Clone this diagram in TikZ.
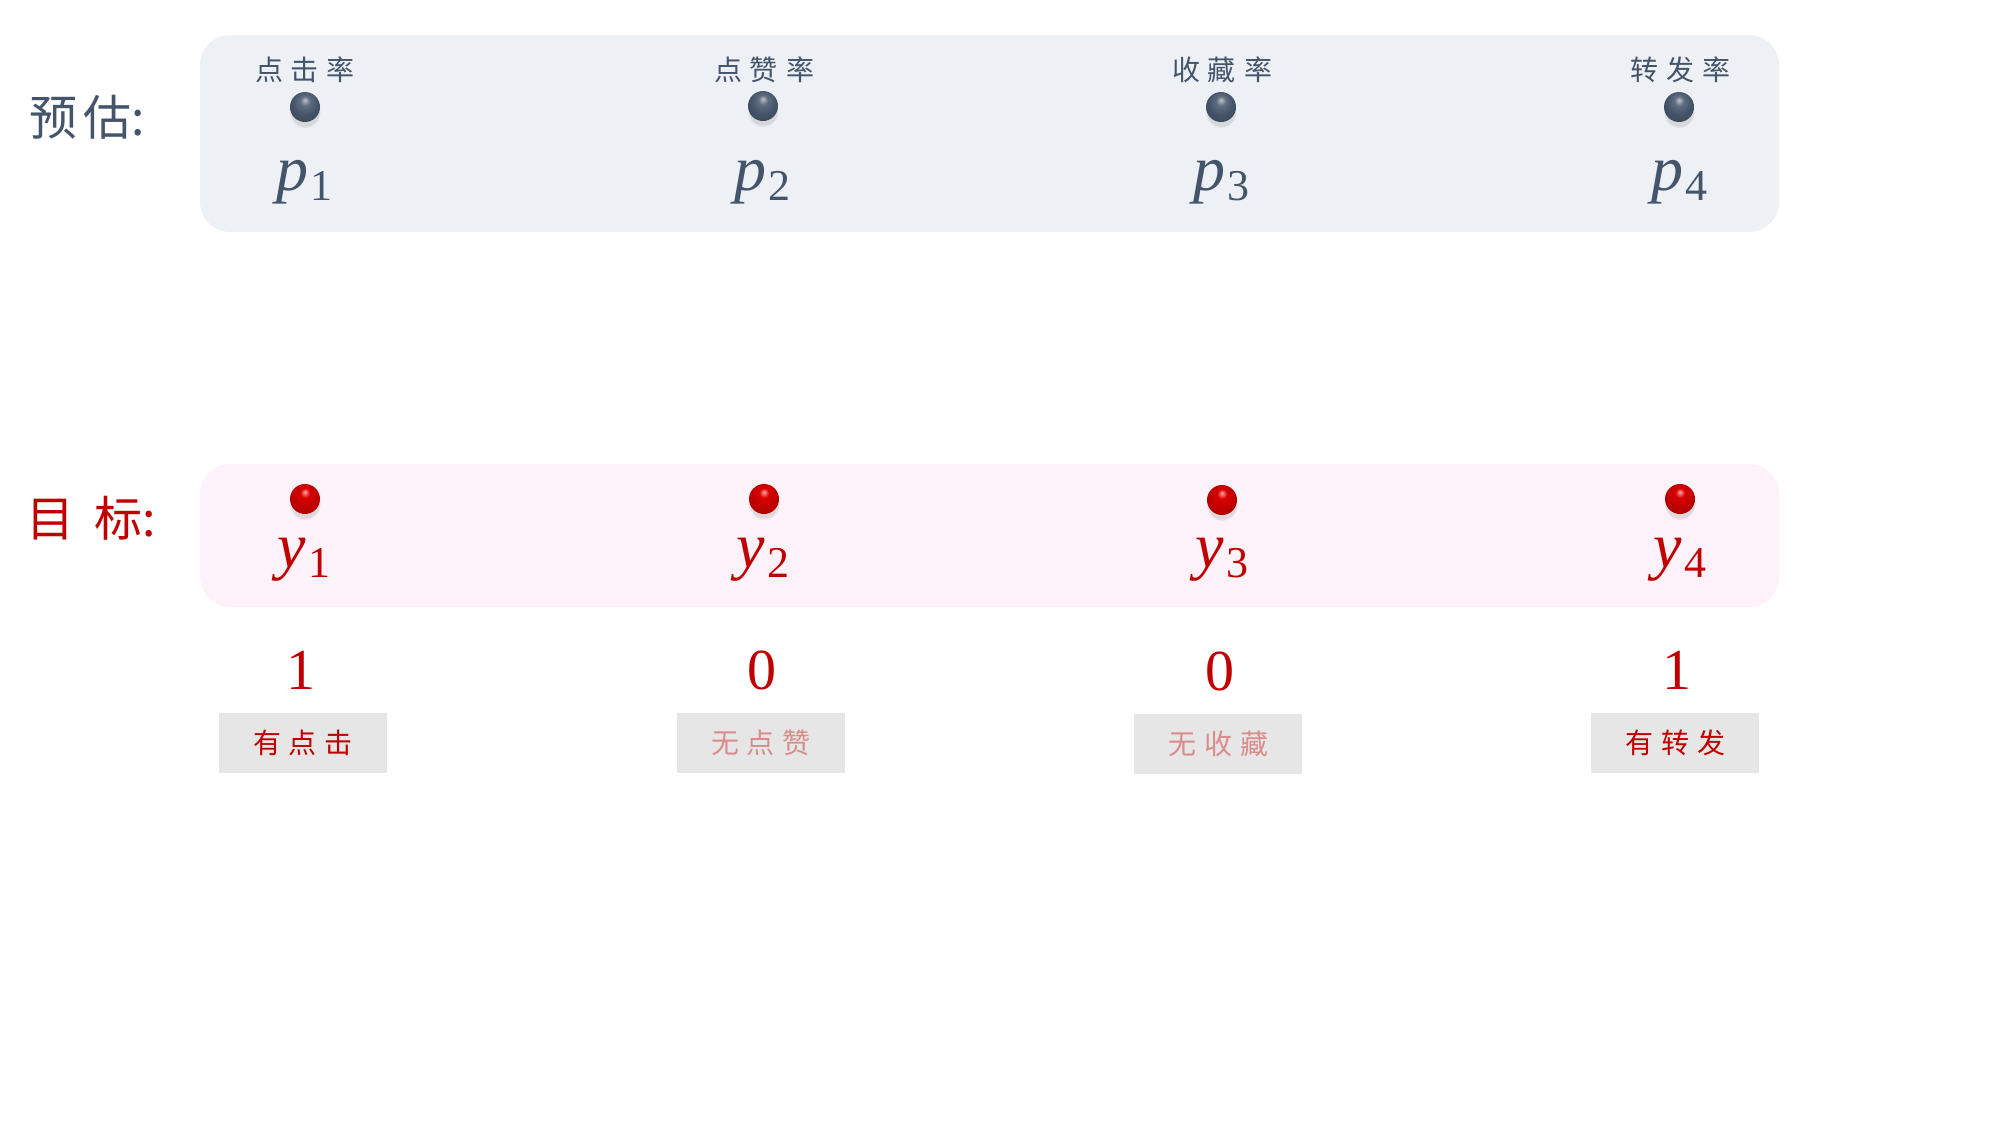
\documentclass[tikz,border=0pt]{standalone}
\usepackage{fontspec}
\setmainfont{Liberation Serif}
\newfontfamily\cjk{Noto Sans CJK SC}
\usetikzlibrary{shadows}
\definecolor{slate}{HTML}{44546A}
\definecolor{deepred}{HTML}{C00000}
\definecolor{paleRed}{HTML}{D98C8C}
\definecolor{topfill}{HTML}{EDF0F4}
\definecolor{botfill}{HTML}{FDF2F9}
\definecolor{tagfill}{HTML}{E6E6E6}
\pgfdeclareradialshading{darkballsh}{\pgfpoint{0bp}{12bp}}{color(0bp)=(slate!35!white); color(8bp)=(slate!85!white); color(20bp)=(slate); color(32bp)=(slate!85!black); color(50bp)=(slate!65!black)}
\pgfdeclareradialshading{redballsh}{\pgfpoint{0bp}{12bp}}{color(0bp)=(red!35!white); color(8bp)=(red!85!black); color(20bp)=(deepred); color(32bp)=(deepred!90!black); color(50bp)=(deepred!70!black)}
\newcommand{\gsp}{\hskip4pt}
\newcommand{\mvar}[2]{\textit{#1}\kern1pt\raisebox{-5pt}{\fontsize{22}{24}\selectfont #2}}
\tikzset{
  panel/.style={fill=#1, draw=none, rounded corners=15pt},
  rowlabel/.style={font=\cjk\fontsize{24}{28}\selectfont, inner sep=0pt},
  ratelabel/.style={font=\cjk\fontsize{14}{16}\selectfont, text=slate, inner sep=0pt},
  dropsh/.style={circular drop shadow={shadow xshift=0pt, shadow yshift=-2.5pt, opacity=0.22, shadow scale=1.05}},
  darkball/.style={circle, minimum size=15pt, inner sep=0pt, shading=darkballsh, dropsh},
  redball/.style={circle, minimum size=15pt, inner sep=0pt, shading=redballsh, dropsh},
  mathlabel/.style={font=\fontsize{32}{36}\selectfont, anchor=base, inner sep=0pt},
  numlabel/.style={font=\fontsize{29}{32}\selectfont, text=deepred, anchor=base, inner sep=0pt},
  tag/.style={fill=tagfill, minimum width=84pt, minimum height=30pt, inner sep=0pt,
    font=\cjk\fontsize{14}{16}\selectfont},
}
\begin{document}
\begin{tikzpicture}[x=0.5pt, y=-0.5pt]
\useasboundingbox (0,0) rectangle (2000,1125);
% panels
\fill[panel=topfill] (200,35) rectangle (1779,232);
\fill[panel=botfill] (200,464) rectangle (1779,607);
% row labels
\node[rowlabel, text=slate] (lblpred) at (87,117) {预\hskip3pt 估:};
\node[rowlabel, text=deepred] (lbltarget) at (91,518) {目\hskip10pt 标:};
% top row
\node[ratelabel] (r1) at (305,70) {点\gsp 击\gsp 率};
\node[ratelabel] (r2) at (764,70) {点\gsp 赞\gsp 率};
\node[ratelabel] (r3) at (1222,70) {收\gsp 藏\gsp 率};
\node[ratelabel] (r4) at (1680,70) {转\gsp 发\gsp 率};
\node[darkball] (b1) at (305,107) {};
\node[darkball] (b2) at (763,106) {};
\node[darkball] (b3) at (1221,107) {};
\node[darkball] (b4) at (1679,107) {};
\node[mathlabel, text=slate] (p1) at (304,190) {\mvar{p}{1}};
\node[mathlabel, text=slate] (p2) at (762,190) {\mvar{p}{2}};
\node[mathlabel, text=slate] (p3) at (1221,190) {\mvar{p}{3}};
\node[mathlabel, text=slate] (p4) at (1679,190) {\mvar{p}{4}};
% bottom row
\node[redball] (c1) at (305,499) {};
\node[redball] (c2) at (764,499) {};
\node[redball] (c3) at (1222,500) {};
\node[redball] (c4) at (1680,499) {};
\node[mathlabel, text=deepred] (y1) at (304,567) {\mvar{y}{1}};
\node[mathlabel, text=deepred] (y2) at (763,567) {\mvar{y}{2}};
\node[mathlabel, text=deepred] (y3) at (1222,567) {\mvar{y}{3}};
\node[mathlabel, text=deepred] (y4) at (1680,567) {\mvar{y}{4}};
% values
\node[numlabel] (v1) at (301,689) {1};
\node[numlabel] (v2) at (762,689) {0};
\node[numlabel] (v3) at (1220,690) {0};
\node[numlabel] (v4) at (1677,689) {1};
% tags
\node[tag, text=deepred] (t1) at (303,743) {有\gsp 点\gsp 击};
\node[tag, text=paleRed] (t2) at (761,743) {无\gsp 点\gsp 赞};
\node[tag, text=paleRed] (t3) at (1218,744) {无\gsp 收\gsp 藏};
\node[tag, text=deepred] (t4) at (1675,743) {有\gsp 转\gsp 发};
\end{tikzpicture}
\end{document}
